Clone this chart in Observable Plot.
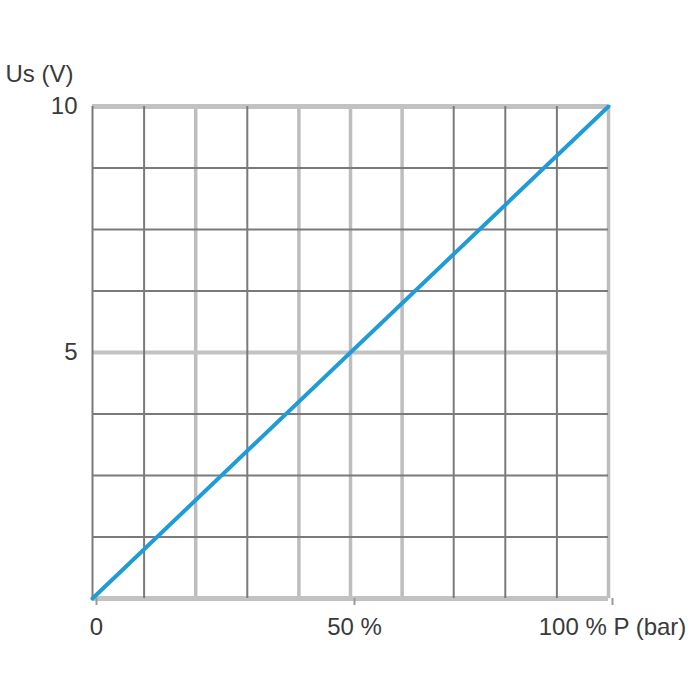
<!DOCTYPE html>
<html>
<head>
<meta charset="utf-8">
<script src="https://cdn.jsdelivr.net/npm/d3@7"></script>
<script src="https://cdn.jsdelivr.net/npm/@observablehq/plot@0.6"></script>
<style>
  body { margin: 0; background: white; }
  #chart { width: 700px; height: 700px; }
</style>
</head>
<body>
<div id="chart"></div>
<script>
// Output voltage vs pressure (linear transducer)
const pressure = [0, 100];      // % of range
const voltage = [0, 10];        // Us (V)

const xGrid = [0, 10, 20, 30, 40, 50, 60, 70, 80, 90, 100];
const yGrid = [0, 1.25, 2.5, 3.75, 5, 6.25, 7.5, 8.75, 10];

const xTicks = [0, 50, 100];
const xTickLabels = ["0", "50 %", "100 % P (bar)"];
const yTicks = [5, 10];
const yTickLabels = ["5", "10"];
const yLabel = "Us (V)";

// a few grid lines are printed lighter and wider in the original
const lightX = [20, 40, 50, 60, 100];
const lightY = [0, 5, 10];

const line = pressure.map((p, i) => ({ p, u: voltage[i] }));

const textColor = "#3a3a3a";
const font = "'Liberation Sans', Arial, sans-serif";

const chart = Plot.plot({
  width: 700,
  height: 700,
  marginLeft: 92,
  marginRight: 92,
  marginTop: 106,
  marginBottom: 102,
  style: { fontFamily: font, fontSize: "24px", background: "white" },
  x: { domain: [0, 100] },
  y: { domain: [0, 10] },
  marks: [
    // light grid lines first
    Plot.ruleX(xGrid.filter((d) => lightX.includes(d)), {
      stroke: "#bdbdbd",
      strokeWidth: 3.5,
    }),
    Plot.ruleY(yGrid.filter((d) => lightY.includes(d)), {
      stroke: "#c2c2c2",
      strokeWidth: (d) => (d === 5 ? 4 : 5),
    }),
    Plot.ruleX(xGrid.filter((d) => !lightX.includes(d)), {
      stroke: "#7a7a7a",
      strokeWidth: 2,
    }),
    Plot.ruleY(yGrid.filter((d) => !lightY.includes(d)), {
      stroke: "#7a7a7a",
      strokeWidth: 2,
    }),
    Plot.axisX(xTicks, {
      tickSize: 7,
      tickPadding: 12,
      stroke: "#9a9a9a",
      strokeWidth: 2,
      fill: textColor,
      fontSize: 24,
      dx: 4,
      tickFormat: (d, i) => xTickLabels[i],
      label: null,
    }),
    Plot.axisY(yTicks, {
      tickSize: 0,
      tickPadding: 15,
      fill: textColor,
      fontSize: 24,
      tickFormat: (d, i) => yTickLabels[i],
      label: null,
    }),
    Plot.text([yLabel], {
      frameAnchor: "top-left",
      textAnchor: "start",
      dx: -87,
      dy: -42,
      fill: textColor,
      fontSize: 24,
    }),
    Plot.line(line, {
      x: "p",
      y: "u",
      stroke: "#1f9bd7",
      strokeWidth: 4,
    }),
  ],
});

document.getElementById("chart").appendChild(chart);
</script>
</body>
</html>
